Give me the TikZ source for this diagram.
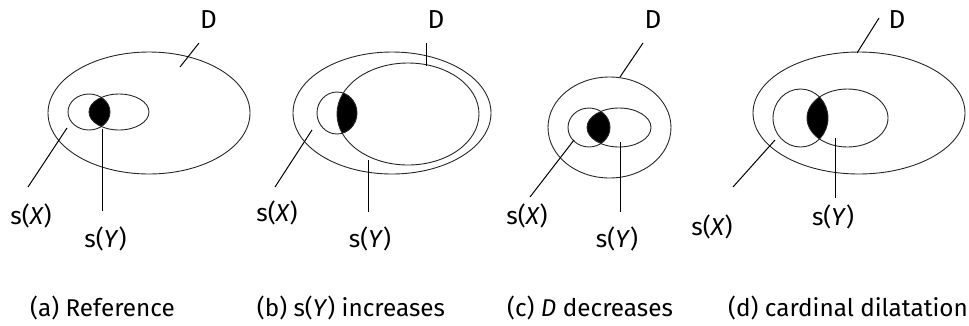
\documentclass[tikz,border=0pt]{standalone}
\usepackage{fontspec}
\setmainfont{Fira Sans}
\begin{document}
\begin{tikzpicture}[x=1pt,y=-1pt,
  set/.style={draw=black!85, line width=0.9pt},
  lens/.style={fill=black},
  lead/.style={draw=black, line width=1pt},
  lbl/.style={font=\fontsize{24.5}{28}\selectfont, inner sep=0pt},
  dlbl/.style={font=\fontsize{26}{30}\selectfont, inner sep=0pt},
  capt/.style={font=\fontsize{24.3}{28}\selectfont, inner sep=0pt}]
\useasboundingbox (0,0) rectangle (969,325);
% ---------- (a)
\begin{scope}
\clip (89,112) ellipse [x radius=21, y radius=18];
\fill[lens] (119,112) ellipse [x radius=30, y radius=18];
\end{scope}
\draw[set] (149,113) ellipse [x radius=101, y radius=61];
\draw[set] (89,112) ellipse [x radius=21, y radius=18];
\draw[set] (119,112) ellipse [x radius=30, y radius=18];
\node[dlbl] (aD) at (208.5,19.5) {D};
\node[lbl] (aX) at (31,216) {s(\textit{X})};
\node[lbl] (aY) at (105.5,239) {s(\textit{Y})};
\coordinate (aD1) at (199,43); \coordinate (aD2) at (180,67);
\coordinate (aX1) at (67,128); \coordinate (aX2) at (28,187);
\coordinate (aY1) at (102,129); \coordinate (aY2) at (102,211);
\draw[lead] (aD1) -- (aD2);
\draw[lead] (aX1) -- (aX2);
\draw[lead] (aY1) -- (aY2);
\node[capt] (ca) at (102.5,307.5) {(a) Reference};
% ---------- (b)
\begin{scope}
\clip (337,113) ellipse [x radius=20, y radius=21];
\fill[lens] (408,114) ellipse [x radius=71, y radius=51];
\end{scope}
\draw[set] (392,113) ellipse [x radius=99, y radius=61];
\draw[set] (408,114) ellipse [x radius=71, y radius=51];
\draw[set] (337,113) ellipse [x radius=20, y radius=21];
\node[dlbl] (bD) at (436,19.5) {D};
\node[lbl] (bX) at (277,213) {s(\textit{X})};
\node[lbl] (bY) at (370,239) {s(\textit{Y})};
\coordinate (bD1) at (426,43); \coordinate (bD2) at (426,66);
\coordinate (bX1) at (312,130); \coordinate (bX2) at (275,187);
\coordinate (bY1) at (368,160); \coordinate (bY2) at (368,212);
\draw[lead] (bD1) -- (bD2);
\draw[lead] (bX1) -- (bX2);
\draw[lead] (bY1) -- (bY2);
\node[capt] (cb) at (351,307.5) {(b) s(\textit{Y}) increases};
% ---------- (c)
\begin{scope}
\clip (589,127.5) ellipse [x radius=21, y radius=19.5];
\fill[lens] (619,127.5) ellipse [x radius=32, y radius=19.5];
\end{scope}
\draw[set] (609.5,127.5) ellipse [x radius=61.5, y radius=50.5];
\draw[set] (589,127.5) ellipse [x radius=21, y radius=19.5];
\draw[set] (619,127.5) ellipse [x radius=32, y radius=19.5];
\node[dlbl] (cD) at (653,19.5) {D};
\node[lbl] (cX) at (527,216) {s(\textit{X})};
\node[lbl] (cY) at (617,239) {s(\textit{Y})};
\coordinate (cD1) at (643,43); \coordinate (cD2) at (620,77);
\coordinate (cX1) at (574,140); \coordinate (cX2) at (530,197);
\coordinate (cY1) at (620,142); \coordinate (cY2) at (620,212);
\draw[lead] (cD1) -- (cD2);
\draw[lead] (cX1) -- (cX2);
\draw[lead] (cY1) -- (cY2);
\node[capt] (cc) at (590,307.5) {(c) \textit{D} decreases};
% ---------- (d)
\begin{scope}
\clip (800.5,118) ellipse [x radius=27.5, y radius=29];
\fill[lens] (847.5,118) ellipse [x radius=40.5, y radius=29];
\end{scope}
\draw[set] (859,113) ellipse [x radius=106, y radius=61];
\draw[set] (800.5,118) ellipse [x radius=27.5, y radius=29];
\draw[set] (847.5,118) ellipse [x radius=40.5, y radius=29];
\node[dlbl] (dD) at (897,19.5) {D};
\node[lbl] (dX) at (712,227) {s(\textit{X})};
\node[lbl] (dY) at (833,217) {s(\textit{Y})};
\coordinate (dD1) at (879,18); \coordinate (dD2) at (857,53);
\coordinate (dX1) at (775,140); \coordinate (dX2) at (733,187);
\coordinate (dY1) at (835,138); \coordinate (dY2) at (835,198);
\draw[lead] (dD1) -- (dD2);
\draw[lead] (dX1) -- (dX2);
\draw[lead] (dY1) -- (dY2);
\node[capt] (cd) at (848,307.5) {(d) cardinal dilatation};
\end{tikzpicture}
\end{document}
